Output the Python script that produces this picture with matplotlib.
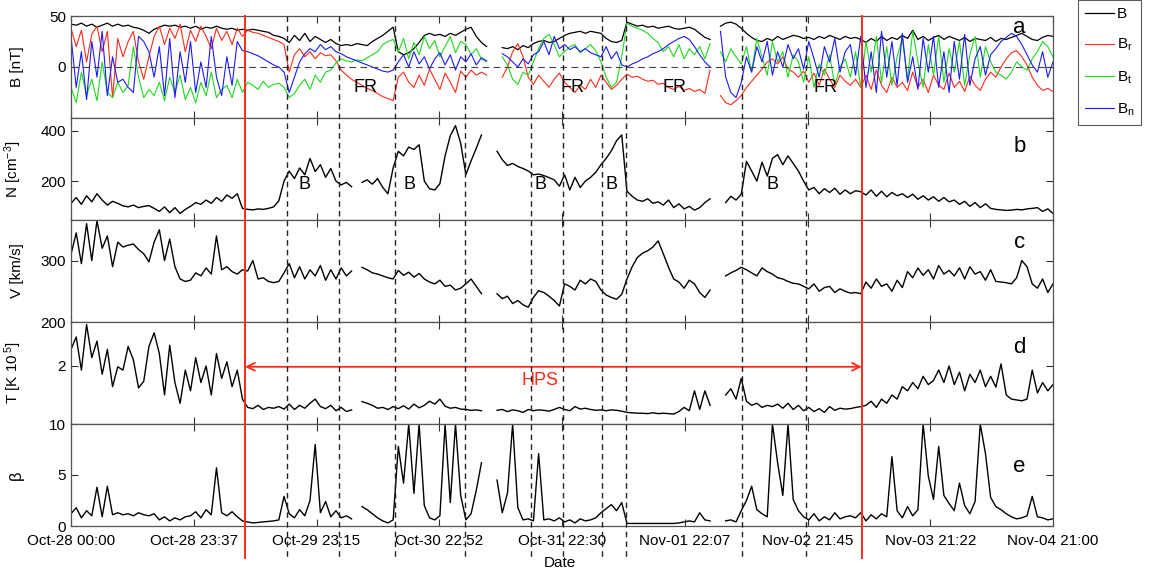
import numpy as np
import matplotlib
matplotlib.use("Agg")
import matplotlib.pyplot as plt
from matplotlib.lines import Line2D
from matplotlib.transforms import blended_transform_factory

nan = np.nan

# --- DATA --- #
# hourly samples, hour 0 = Oct-28 00:00

B_total = [42, 41, 43, 40, 42, 39, 41, 43, 40, 42,
           40, 41, 39, 38, 36, 33, 37, 39, 41, 40,
           41, 39, 40, 38, 40, 37, 39, 38, 40, 38,
           37, 38, 36, 37, 36, 37, 36, 35, 34, 31,
           30, 28, 24, 31, 26, 33, 25, 30, 27, 24,
           27, 23, 21, 22, 21, 23, 22, 21, 25, 28,
           31, 35, 39, 15, 12, 14, 18, 24, 31, 33,
           31, 32, 30, 33, 31, 34, 37, 39, 30, 24,
           20, nan, nan, 19, 18, 20, 17, 21, 19, 23,
           25, 26, 24, 25, 28, 31, 33, 34, 35, 33,
           35, 34, 33, 28, 25, 24, 26, 44, 42, 40,
           41, 39, 40, 38, 39, 40, 38, 37, 38, 39,
           37, 33, 29, 27, nan, 40, 43, 44, 42, 38,
           33, 29, 26, 25, 28, 26, 30, 27, 29, 31,
           30, 28, 29, 27, 30, 28, 31, 29, 27, 30,
           28, 29, 27, 24, 28, 25, 30, 26, 29, 27,
           31, 28, 36, 27, 30, 26, 29, 31, 27, 30,
           28, 26, 29, 25, 28, 27, 26, 29, 25, 28,
           27, 29, 31, 33, 30, 27, 26, 29, 31, 30]

B_r = [38, 20, 36, 5, 32, 40, 15, 35, -30, 28,
       10, 25, 35, 5, -12, 10, 30, 40, 22, 38,
       28, 42, 15, 36, 25, 40, 30, 18, 38, 26,
       35, 22, 38, 30, 36, 34, 33, 31, 29, 27,
       25, 22, -5, 12, 18, 10, 15, 8, 14, 11,
       12, 6, -3, -8, -12, -15, -18, -21, -23, -26,
       -29, -31, -33, -10, -5, -15, -20, -8, -18, -2,
       -12, -22, -6, -15, -25, -4, -10, -3, -8, -5,
       -8, nan, nan, -10, 0, 15, 23, 10, -10, -17,
       -8, -14, -20, -12, -6, -15, -20, -25, -18, -22,
       -12, -20, -8, -15, -22, -18, -12, -7, -10, -9,
       -12, -14, -13, -17, -16, -20, -22, -19, -23, -21,
       -24, -22, -26, -3, nan, -28, -35, -37, -33, -28,
       -20, -14, -8, -2, 5, 8, 3, 10, -2, -5,
       -10, -4, -15, -6, -18, -2, -12, -20, -8, -14,
       -18, -12, -20, -8, -22, -3, -18, -25, -10, -20,
       -15, -23, -5, -20, -12, -25, -8, -18, -22, -6,
       -20, -14, -24, -9, -18, -23, -12, -5, -10, 0,
       8, 14, 16, 10, 2, -10, -18, -23, -21, -24]

B_t = [-20, -35, -5, -28, -12, -33, 5, -25, -30, -15,
       -25, -18, 20, -10, -30, -22, -28, -15, -33, -10,
       -25, -8, -32, -20, -35, -15, -28, -5, -30, -22,
       -18, -30, -12, -25, -15, -18, -22, -14, -20, -17,
       -16, -20, -30, -26, -18, -12, -22, -8, -15, -5,
       -3, 4, 8, 6, 5, 7, 6, 9, 12, 15,
       22, 25, 27, 15, 28, 8, 24, 12, 30, 18,
       26, 10, 20, 30, 14, 25, 22, 12, 18, 8,
       5, nan, nan, 10, 2, -12, -17, -5, -8, 5,
       18, 28, 32, 22, 10, 15, 20, 22, 14, 18,
       22, 16, 5, -10, -20, -15, 10, 43, 40, 38,
       36, 33, 28, 24, 15, 20, 10, 22, 8, 18,
       12, 20, 8, 23, nan, 15, 5, 18, 10, 3,
       20, -5, 28, 10, -8, 25, 5, 15, -10, 12,
       5, -15, 10, -20, 3, -8, 12, -18, 0, 8,
       -10, 15, -20, 25, -5, 30, -15, 20, -18, 10,
       28, -12, 35, 5, -20, 22, -8, 30, -15, 18,
       -5, 25, -18, 12, 30, -10, 20, 5, -5, -8,
       -12, -5, 5, 0, -3, 8, 15, 25, 20, 10]

B_n = [30, -20, 15, -32, 25, -10, 35, -28, 10, -15,
       -12, -20, -25, 30, 25, 15, -10, 20, -28, 28,
       -30, 15, -15, 25, -25, 5, -20, 30, -10, -28,
       10, -18, 25, 16, 15, 13, 11, 8, 5, 2,
       0, -5, -25, -10, 5, 13, 18, 15, 22, 17,
       20, 15, 13, 10, 8, 6, 4, 2, 0, -2,
       -4, -5, -3, 5, 12, 0, 15, 3, 10, -2,
       8, 14, 2, 12, -3, 10, 5, 13, 2, 9,
       6, nan, nan, 13, 10, 5, 0, 8, 3, 12,
       15, 25, 12, 30, 18, 22, 17, 20, 15, 18,
       14, 12, 10, 20, 8, 15, 2, 0, 3, 5,
       8, 10, 13, 15, 18, 22, 25, 28, 30, 27,
       20, 12, 5, 0, nan, 35, -10, -25, -30, -15,
       10, -5, 20, 5, 25, -8, 15, 0, 22, 8,
       18, -2, 25, 8, -10, 20, 5, 28, -5, 15,
       22, -8, 30, -20, 15, -25, 35, -10, 25, -18,
       33, -15, 10, -22, 28, -5, 30, -20, 15, -25,
       25, -12, 32, -18, 8, 20, -8, 12, 18, 25,
       29, 33, 30, 22, 12, 2, -5, 15, -10, 5]

N = [112, 135, 108, 142, 118, 150, 125, 105, 120, 112,
     102, 98, 105, 95, 100, 103, 92, 80, 98, 75,
     95, 72, 88, 100, 115, 108, 125, 112, 135, 120,
     145, 132, 150, 92, 88, 86, 90, 88, 92, 98,
     122, 200, 240, 210, 252, 225, 290, 238, 265, 215,
     250, 200, 185, 195, 178, nan, 195, 205, 188, 210,
     175, 150, 252, 318, 300, 335, 325, 344, 200, 170,
     165, 190, 300, 380, 420, 350, 226, 280, 330, 383,
     nan, nan, 318, 285, 262, 270, 258, 250, 240, 225,
     228, 222, 214, 205, 180, 225, 165, 215, 175, 200,
     215, 235, 265, 290, 320, 360, 383, 160, 140, 125,
     120, 130, 112, 118, 105, 125, 95, 110, 90, 100,
     85, 95, 115, 130, nan, nan, 115, 140, 125, 148,
     278, 240, 200, 275, 220, 290, 305, 265, 300, 270,
     240, 200, 165, 175, 150, 170, 155, 172, 148, 165,
     150, 162, 158, 145, 165, 140, 160, 138, 155, 142,
     150, 135, 148, 128, 142, 125, 138, 120, 135, 118,
     125, 108, 120, 100, 115, 95, 110, 92, 88, 86,
     84, 85, 88, 86, 90, 92, 95, 80, 90, 72]

V = [310, 345, 295, 360, 300, 365, 320, 340, 290, 330,
     322, 325, 327, 318, 311, 298, 330, 350, 300, 335,
     290, 270, 266, 268, 280, 275, 288, 278, 340, 285,
     290, 282, 278, 285, 283, 300, 270, 272, 266, 264,
     266, 280, 295, 272, 290, 270, 285, 275, 292, 268,
     285, 270, 288, 275, 283, nan, 289, 285, 280, 278,
     275, 272, 270, 284, 276, 281, 273, 279, 270, 265,
     262, 268, 258, 260, 252, 255, 262, 270, 258, 246,
     nan, nan, 246, 238, 242, 230, 235, 228, 224, 240,
     251, 248, 242, 235, 226, 262, 258, 252, 268, 262,
     270, 266, 252, 244, 240, 237, 245, 270, 290, 305,
     312, 316, 322, 332, 311, 289, 270, 265, 255, 268,
     262, 248, 240, 252, nan, nan, 275, 280, 284, 289,
     285, 280, 275, 288, 282, 278, 272, 270, 266, 263,
     262, 258, 254, 262, 250, 256, 258, 248, 254, 250,
     247, 248, 246, 265, 255, 270, 258, 262, 250, 268,
     256, 282, 272, 288, 276, 285, 270, 292, 278, 284,
     275, 288, 270, 290, 278, 282, 268, 285, 266, 265,
     264, 262, 272, 300, 290, 262, 255, 270, 248, 262]

T = [2.4, 2.7, 1.9, 3.0, 2.2, 2.6, 1.8, 2.4, 1.5, 1.98,
     1.9, 2.47, 2.15, 1.47, 1.63, 2.47, 2.8, 2.3, 1.3, 2.5,
     1.6, 1.1, 1.9, 1.4, 2.2, 1.6, 2.0, 1.3, 2.3, 1.7,
     2.1, 1.5, 1.9, 1.2, 1.0, 0.97, 1.05, 0.95, 1.0, 0.98,
     1.02, 0.96, 1.08, 0.95, 1.05, 0.98, 1.1, 1.2, 1.02, 0.97,
     1.05, 0.92, 1.0, 0.9, 0.94, nan, 1.14, 1.1, 1.05, 0.98,
     1.0, 0.95, 1.02, 0.97, 1.04, 0.96, 1.08, 0.99, 1.05, 1.15,
     1.08, 1.2, 1.03, 0.98, 1.0, 0.96, 0.95, 0.93, 0.94, 0.92,
     nan, nan, 0.93, 0.95, 0.9, 0.94, 0.92, 0.88, 0.95, 0.92,
     0.94, 0.93, 0.91, 0.95, 1.0, 0.95, 0.92, 1.02, 0.96, 0.98,
     0.95, 0.93, 0.94, 0.92, 0.94, 0.93, 0.91, 0.88, 0.87, 0.86,
     0.86, 0.85, 0.87, 0.85, 0.86, 0.85, 0.84, 0.9, 1.0, 0.92,
     1.4, 0.95, 1.4, 1.05, nan, nan, 1.3, 1.45, 1.2, 1.7,
     1.15, 1.05, 1.1, 1.0, 1.05, 1.02, 1.08, 0.98, 1.1, 0.95,
     1.05, 0.92, 1.0, 0.9, 0.97, 0.88, 1.02, 0.93, 0.98, 0.96,
     0.97, 1.0, 1.02, 1.05, 1.15, 1.0, 1.2, 1.1, 1.3, 1.2,
     1.5, 1.4, 1.6, 1.45, 1.75, 1.55, 1.65, 1.9, 1.6, 2.0,
     1.55, 1.85, 1.4, 1.8, 1.6, 1.9, 1.5, 1.75, 1.49, 2.05,
     1.3, 1.2, 1.18, 1.16, 1.2, 1.9, 1.35, 1.6, 1.4, 1.55]

beta = [1.2, 1.8, 0.8, 1.5, 1.0, 3.8, 0.9, 3.9, 1.1, 1.3,
        1.1, 1.2, 1.0, 1.3, 1.1, 1.0, 1.2, 0.6, 0.9, 0.5,
        0.8, 0.6, 0.9, 1.0, 1.4, 0.8, 1.6, 1.1, 5.7, 1.3,
        1.0, 1.4, 0.9, 0.5, 0.4, 0.3, 0.35, 0.4, 0.45, 0.5,
        0.6, 2.9, 1.2, 0.8, 1.6, 1.0, 2.5, 8.0, 1.3, 2.4,
        0.9, 1.5, 0.8, 1.0, 0.7, nan, 1.9, 1.6, 1.2, 0.8,
        0.5, 0.3, 0.6, 7.8, 4.2, 10, 3.2, 10, 2.0, 0.8,
        0.6, 1.0, 10, 2.3, 10, 3.0, 0.6, 1.2, 3.5, 6.2,
        nan, nan, 4.5, 1.3, 3.2, 10, 1.8, 0.6, 0.7, 0.5,
        7.1, 0.6, 0.7, 0.5, 0.8, 0.4, 0.6, 0.3, 0.7, 0.5,
        0.6, 0.8, 1.3, 1.7, 2.1, 1.5, 2.3, 0.25, 0.25, 0.25,
        0.25, 0.25, 0.25, 0.25, 0.25, 0.25, 0.25, 0.3, 0.4, 0.5,
        0.4, 1.3, 0.6, 0.5, nan, nan, 0.5, 0.6, 0.4, 1.5,
        2.5, 3.9, 1.6, 1.2, 0.9, 10, 6.2, 3.0, 10, 2.6,
        1.5, 0.9, 0.6, 1.2, 0.5, 0.9, 0.6, 1.3, 0.7, 0.9,
        1.0, 0.8, 1.3, 0.5, 1.1, 0.7, 1.2, 0.9, 6.8, 1.5,
        0.8, 1.9, 1.0, 1.6, 10, 4.9, 2.6, 7.8, 3.0, 2.2,
        1.5, 4.2, 2.0, 1.2, 2.4, 10, 7.1, 2.8, 1.9, 1.6,
        1.2, 0.9, 0.7, 0.8, 1.0, 2.9, 0.9, 0.8, 0.6, 0.7]

tick_labels = ['Oct-28 00:00', 'Oct-28 23:37', 'Oct-29 23:15', 'Oct-30 22:52',
               'Oct-31 22:30', 'Nov-01 22:07', 'Nov-02 21:45', 'Nov-03 21:22',
               'Nov-04 21:00']
total_hours = 189

# HPS boundaries (red) and structure boundaries (dashed), in hours
hps_bounds = [33.5, 152.2]
struct_bounds = [41.6, 51.6, 62.4, 75.8, 88.5, 94.7, 102.2, 106.8, 129.1, 141.5]

fr_hours = [56.6, 96.6, 116.2, 145.3]
blob_hours = [45, 65.2, 90.3, 104, 135]

# --- PLOT --- #

plt.rcParams['font.family'] = ['Liberation Sans', 'DejaVu Sans']
plt.rcParams['mathtext.default'] = 'regular'

RED = '#ff2a1a'
GREEN = '#1fd81f'
BLUE = '#1a1aff'

W, H = 1150, 573
fig = plt.figure(figsize=(W / 100, H / 100), dpi=100)

hours = np.arange(len(B_total))
tick_pos = np.linspace(0, total_hours, len(tick_labels))


def make_panel(top_px):
    ax = fig.add_axes([71 / W, 1 - (top_px + 102) / H, 982 / W, 102 / H])
    ax.set_xlim(0, total_hours)
    ax.set_xticks(tick_pos)
    ax.tick_params(direction='in', top=True, right=True, length=5,
                   width=0.8, labelsize=11, color='#333')
    for sp in ax.spines.values():
        sp.set_color('#555')
        sp.set_linewidth(0.9)
    ax.yaxis.set_label_coords(-0.048, 0.5)
    return ax


axes = [make_panel(t) for t in [16, 118, 220, 322, 424]]
ax_a, ax_b, ax_c, ax_d, ax_e = axes

# panel a: magnetic field
la = ax_a.plot(hours, B_total, color='black', lw=0.9)[0]
lr = ax_a.plot(hours, B_r, color=RED, lw=0.8)[0]
lt = ax_a.plot(hours, B_t, color=GREEN, lw=0.8)[0]
ln = ax_a.plot(hours, B_n, color=BLUE, lw=0.8)[0]
ax_a.axhline(0, color='#444', lw=0.8, ls=(0, (6, 4)))
ax_a.set_ylim(-50, 50)
ax_a.set_yticks([-50, 0, 50])
ax_a.set_yticklabels(['', '0', '50'])
ax_a.set_ylabel('B [nT]', fontsize=11)
for h in fr_hours:
    ax_a.text(h, -20, 'FR', fontsize=13, ha='center', va='center')

# panel b: density
ax_b.plot(hours, N, color='black', lw=1.0)
ax_b.set_ylim(46, 450)
ax_b.set_yticks([200, 400])
ax_b.set_ylabel('N [cm$^{-3}$]', fontsize=11)
for h in blob_hours:
    ax_b.text(h, 188, 'B', fontsize=13, ha='center', va='center')

# panel c: speed
ax_c.plot(hours, V, color='black', lw=1.0)
ax_c.set_ylim(200, 366)
ax_c.set_yticks([200, 300])
ax_c.set_ylabel('V [km/s]', fontsize=11)

# panel d: temperature
ax_d.plot(hours, T, color='black', lw=1.0)
ax_d.set_ylim(0.6, 3.06)
ax_d.set_yticks([2])
ax_d.set_ylabel('T [K 10$^{\\,5}$]', fontsize=11)
ax_d.annotate('', xy=(hps_bounds[0], 1.98), xytext=(hps_bounds[1], 1.98),
              arrowprops=dict(arrowstyle='<->', color=RED, lw=1.3,
                              shrinkA=0, shrinkB=0, mutation_scale=14))
ax_d.text(np.mean(hps_bounds) - 2.5, 1.66, 'HPS', color=RED, fontsize=13,
          ha='center', va='center')

# panel e: plasma beta
ax_e.plot(hours, beta, color='black', lw=1.0)
ax_e.set_ylim(0, 10)
ax_e.set_yticks([0, 5, 10])
ax_e.set_ylabel('β', fontsize=12)

for ax in axes[:-1]:
    ax.tick_params(labelbottom=False)
ax_e.set_xticklabels(tick_labels)
ax_e.tick_params(axis='x', pad=6)

panel_letters = ['a', 'b', 'c', 'd', 'e']
letter_y = [0.89, 0.72, 0.78, 0.75, 0.58]
for ax, s, y in zip(axes, panel_letters, letter_y):
    ax.text(0.966, y, s, transform=ax.transAxes, fontsize=16,
            ha='center', va='center')

fig.text(560 / W, 1 - 563 / H, 'Date', fontsize=11, ha='center', va='center')

# boundary lines running through all panels
trans = blended_transform_factory(ax_e.transData, fig.transFigure)
y0, y1 = 1 - 16 / H, 1 - 558 / H
for h in struct_bounds:
    fig.add_artist(Line2D([h, h], [y0, y1], transform=trans, color='#222',
                          lw=1.0, ls=(0, (4, 3))))
for h in hps_bounds:
    fig.add_artist(Line2D([h, h], [y0, y1], transform=trans, color=RED, lw=1.4))

leg = fig.legend([la, lr, lt, ln], ['B', 'B$_r$', 'B$_t$', 'B$_n$'],
                 loc='upper left', bbox_to_anchor=(1078 / W, 1.0),
                 borderaxespad=0.0, frameon=True, fancybox=False,
                 edgecolor='#333', fontsize=11, handlelength=1.9,
                 labelspacing=1.05, borderpad=0.45, handletextpad=0.2)
leg.get_frame().set_linewidth(0.8)

fig.savefig('out.png', dpi=100)
